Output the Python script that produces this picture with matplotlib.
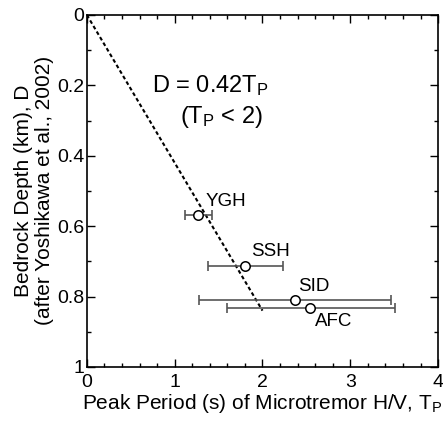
import matplotlib
matplotlib.use("Agg")
import matplotlib.pyplot as plt
from matplotlib.ticker import MultipleLocator

plt.rcParams['font.family'] = ['Liberation Sans', 'DejaVu Sans']
plt.rcParams['mathtext.fontset'] = 'custom'
plt.rcParams['mathtext.rm'] = 'Liberation Sans'
plt.rcParams['mathtext.it'] = 'Liberation Sans'

sites = ["YGH", "SSH", "SID", "AFC"]
period = [1.27, 1.80, 2.37, 2.545]
depth = [0.568, 0.712, 0.810, 0.833]
err_lo = [1.12, 1.38, 1.28, 1.595]
err_hi = [1.43, 2.23, 3.46, 3.51]
label_pos = [(1.35, 0.53), (1.87, 0.672), (2.41, 0.772), (2.60, 0.871)]
fit_x = [0, 2.0]
coef = 0.42

fig = plt.figure(figsize=(4.43, 4.25), dpi=100)
ax = fig.add_axes([0.196, 0.1365, 0.793, 0.8285])

ax.plot(fit_x, [coef * v for v in fit_x], color='black', lw=1.5, dashes=(1.8, 1.3))

xerr = [[p - l for p, l in zip(period, err_lo)], [h - p for p, h in zip(period, err_hi)]]
ax.errorbar(period, depth, xerr=xerr, fmt='none', ecolor='#555555', elinewidth=1.2,
            capsize=3.5, capthick=1.2, zorder=2)
ax.plot(period, depth, 'o', mfc='white', mec='black', mew=1.1, ms=6.8, zorder=3)
for s, (lx, ly) in zip(sites, label_pos):
    ax.text(lx, ly, s, fontsize=13.5, ha='left', va='center')

ax.text(0.74, 0.2, r"D = 0.42T$_\mathrm{P}$", fontsize=17, ha='left', va='center')
ax.text(1.06, 0.29, r"(T$_\mathrm{P}$ < 2)", fontsize=17, ha='left', va='center')

ax.set_xlim(0, 4)
ax.set_ylim(1, 0)
ax.set_xticks([0, 1, 2, 3, 4])
ax.set_xticklabels(["0", "1", "2", "3", "4"])
ax.set_yticks([0, 0.2, 0.4, 0.6, 0.8, 1.0])
ax.set_yticklabels(["0", "0.2", "0.4", "0.6", "0.8", "1"])
ax.xaxis.set_minor_locator(MultipleLocator(0.2))
ax.yaxis.set_minor_locator(MultipleLocator(0.1))
ax.tick_params(which='both', direction='in', top=True, right=True, labelsize=14, width=1)
ax.tick_params(which='major', length=6)
ax.tick_params(axis='x', which='major', pad=5)
ax.tick_params(axis='y', which='major', pad=2)
ax.tick_params(which='minor', length=3)
for sp in ax.spines.values():
    sp.set_linewidth(1.2)

ax.set_xlabel(r"Peak Period (s) of Microtremor H/V, T$_\mathrm{P}$", fontsize=15, labelpad=1)
ax.set_ylabel("Bedrock Depth (km), D\n(after Yoshikawa et al., 2002)", fontsize=15, labelpad=2, linespacing=1.15)

fig.savefig("out.png", dpi=100)
